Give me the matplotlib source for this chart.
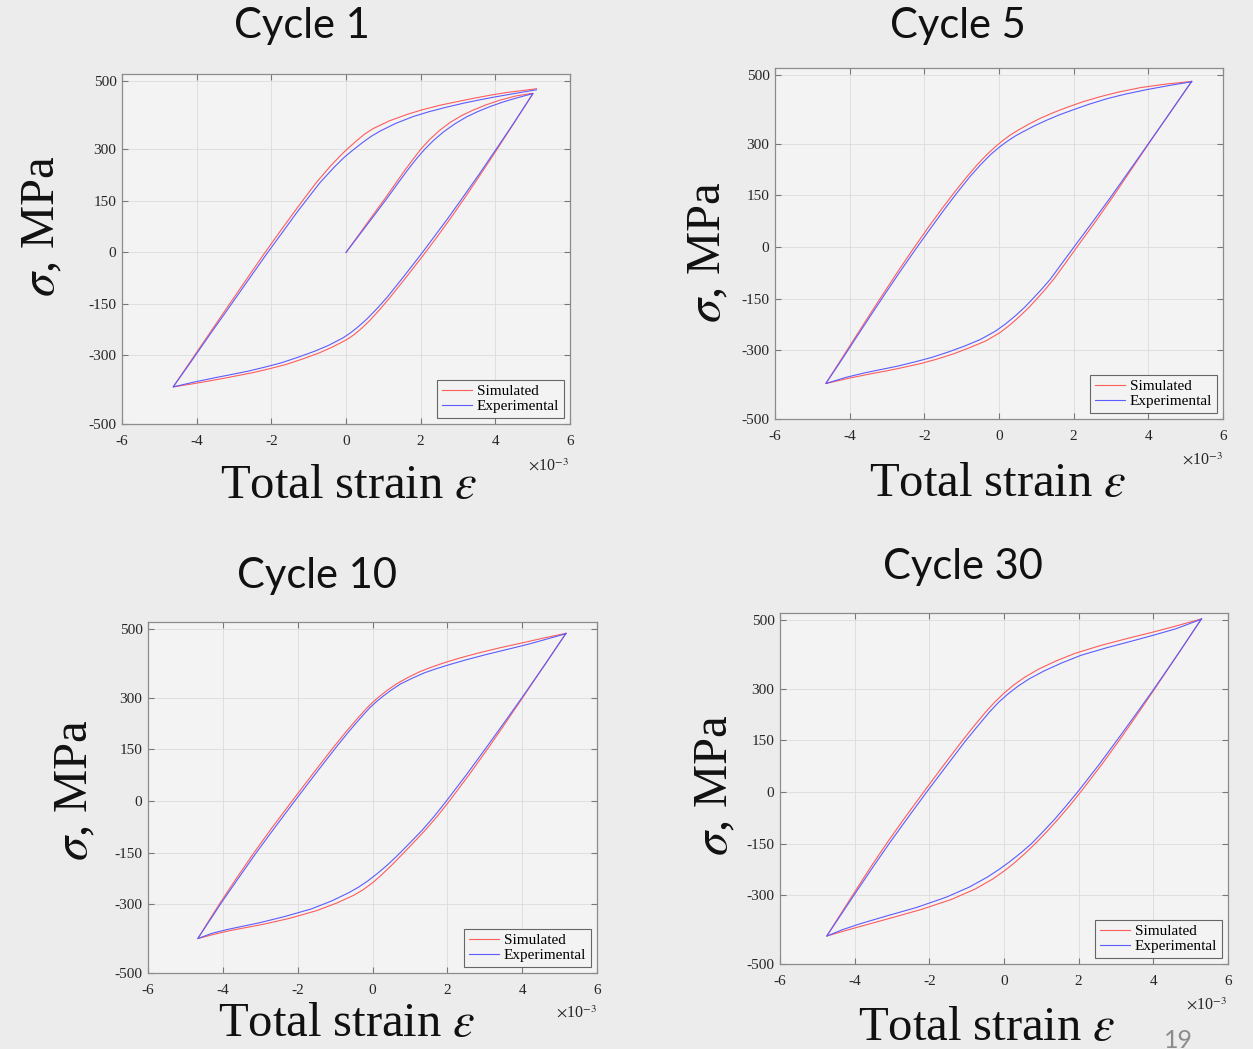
# coding=utf-8
# cyclic stress-strain loops, simulated vs experimental

import matplotlib
matplotlib.use('Agg')

import matplotlib.pyplot as plt

plt.rcParams['font.family'] = ['Liberation Serif', 'DejaVu Serif']
plt.rcParams['mathtext.fontset'] = 'stix'
plt.rcParams['axes.unicode_minus'] = False

W = 1253
H = 1049

# strain in units of 1e-3, stress in MPa
# cycle 1 : initial loading -> unloading -> reloading
c1_sim_eps = [0, 0.4, 0.73, 1.05, 1.36, 1.6, 1.8, 2.02, 2.25, 2.5, 2.79, 3.1, 3.41, 3.75, 4.13, 4.55, 5.01,
              4.5, 4.03, 3.6, 3.18, 2.79, 2.45, 2.1, 1.65, 1.18, 0.9, 0.64, 0.4, 0.2, 0.02, -0.35, -0.7,
              -1.15, -1.59, -2.05, -2.48, -2.95, -3.38, -4.0, -4.63,
              -4.2, -3.7, -3.2, -2.7, -2.2, -1.8, -1.4, -1.14, -0.8, -0.43, -0.16, 0.02, 0.29, 0.5, 0.73,
              1.15, 1.63, 2.05, 2.52, 3.0, 3.41, 3.85, 4.3, 5.1]
c1_sim_sig = [0, 60, 110, 158, 206, 243, 272, 303, 330, 355, 379, 399, 415, 430, 444, 456, 464,
              377, 298, 227, 159, 98, 47, -4, -67, -131, -167, -198, -223, -241, -254, -275, -292,
              -310, -326, -339, -350, -360, -369, -381, -392,
              -323, -243, -163, -84, -5, 56, 116, 154, 203, 250, 281, 300, 326, 345, 361,
              383, 402, 416, 429, 440, 449, 458, 466, 477]
c1_exp_eps = [0, 0.42, 0.77, 1.1, 1.42, 1.67, 1.88, 2.11, 2.35, 2.62, 2.92, 3.23, 3.54, 3.88, 4.25, 4.63, 5.01,
              4.5, 4.01, 3.56, 3.12, 2.72, 2.37, 2.02, 1.57, 1.1, 0.82, 0.55, 0.3, 0.1, -0.08, -0.47, -0.84,
              -1.3, -1.74, -2.2, -2.62, -3.08, -3.5, -4.08, -4.63,
              -4.18, -3.67, -3.15, -2.64, -2.13, -1.72, -1.32, -1.05, -0.7, -0.32, -0.04, 0.16, 0.44, 0.67, 0.92,
              1.33, 1.8, 2.22, 2.68, 3.15, 3.55, 3.98, 4.4, 5.1]
c1_exp_sig = [0, 60, 110, 158, 206, 243, 272, 301, 327, 352, 375, 395, 411, 426, 440, 452, 463,
              378, 299, 227, 159, 98, 47, -4, -67, -131, -165, -195, -219, -236, -249, -271, -288,
              -306, -322, -335, -346, -356, -365, -378, -392,
              -323, -243, -163, -84, -5, 56, 116, 154, 203, 248, 278, 296, 320, 338, 354,
              376, 396, 410, 423, 435, 444, 453, 461, 474]

# cycle 5 : unloading -> reloading
c5_sim_eps = [5.16, 4.6, 4.01, 3.55, 3.07, 2.6, 2.09, 1.78, 1.47, 1.25, 1.02, 0.8, 0.57, 0.3, 0.04, -0.35, -0.77,
              -1.2, -1.66, -2.1, -2.56, -3.0, -3.45, -4.0, -4.64,
              -4.3, -3.9, -3.5, -3.1, -2.7, -2.3, -1.9, -1.53, -1.2, -0.86, -0.6, -0.32, -0.1, 0.1, 0.3, 0.49,
              0.8, 1.11, 1.45, 1.83, 2.25, 2.72, 3.2, 3.79, 4.45, 5.16]
c5_sim_sig = [481, 393, 300, 226, 149, 76, 0, -47, -93, -122, -150, -176, -200, -226, -248, -273, -292,
              -310, -326, -339, -350, -360, -369, -381, -397,
              -339, -271, -203, -136, -70, -6, 56, 111, 158, 204, 237, 269, 291, 309, 325, 338,
              357, 374, 390, 406, 422, 437, 450, 463, 473, 481]
c5_exp_eps = [5.16, 4.6, 4.0, 3.52, 3.02, 2.53, 2.01, 1.69, 1.38, 1.15, 0.91, 0.68, 0.44, 0.16, -0.1, -0.5, -0.92,
              -1.35, -1.8, -2.25, -2.7, -3.15, -3.6, -4.1, -4.64,
              -4.28, -3.87, -3.46, -3.05, -2.64, -2.23, -1.82, -1.45, -1.12, -0.78, -0.51, -0.22, 0.01, 0.22, 0.43, 0.63,
              0.95, 1.27, 1.62, 2.0, 2.42, 2.9, 3.38, 3.95, 4.55, 5.16]
c5_exp_sig = [481, 393, 300, 226, 149, 76, 0, -47, -93, -122, -150, -176, -200, -225, -245, -269, -288,
              -305, -321, -334, -346, -356, -366, -379, -397,
              -339, -271, -203, -136, -70, -6, 56, 111, 158, 204, 237, 269, 290, 307, 322, 334,
              352, 368, 384, 399, 415, 431, 444, 457, 469, 480]

# cycle 10
c10_sim_eps = [5.17, 4.6, 4.0, 3.55, 3.12, 2.6, 2.07, 1.72, 1.4, 1.08, 0.78, 0.5, 0.25, 0.0, -0.25, -0.5, -0.96,
               -1.5, -2.21, -2.9, -3.82, -4.25, -4.67,
               -4.35, -4.07, -3.65, -3.19, -2.7, -2.12, -1.6, -1.05, -0.7, -0.4, -0.15, 0.02, 0.2, 0.4, 0.64,
               0.95, 1.25, 1.53, 1.9, 2.35, 2.87, 3.4, 4.03, 4.6, 5.17]
c10_sim_sig = [487, 395, 298, 226, 158, 79, 2, -46, -86, -123, -157, -188, -214, -238, -258, -274, -297,
               -319, -341, -358, -377, -388, -400,
               -344, -296, -227, -154, -80, 4, 78, 155, 202, 240, 270, 288, 305, 322, 340,
               359, 375, 387, 401, 416, 431, 445, 460, 474, 487]
c10_exp_eps = [5.17, 4.6, 3.98, 3.51, 3.06, 2.53, 1.99, 1.64, 1.32, 0.99, 0.69, 0.4, 0.14, -0.12, -0.38, -0.64, -1.1,
               -1.64, -2.35, -3.02, -3.9, -4.3, -4.67,
               -4.33, -4.04, -3.6, -3.13, -2.63, -2.05, -1.53, -0.98, -0.63, -0.33, -0.08, 0.1, 0.29, 0.5, 0.75,
               1.07, 1.38, 1.67, 2.05, 2.5, 3.02, 3.55, 4.15, 4.68, 5.17]
c10_exp_sig = [487, 395, 298, 226, 158, 79, 2, -46, -86, -123, -156, -186, -210, -232, -251, -267, -291,
               -314, -336, -354, -374, -385, -400,
               -344, -296, -227, -154, -80, 4, 78, 155, 202, 240, 270, 288, 305, 322, 340,
               357, 372, 383, 396, 410, 425, 439, 455, 471, 486]

# cycle 30
c30_sim_eps = [5.29, 4.65, 4.04, 3.6, 3.16, 2.62, 2.09, 1.75, 1.45, 1.15, 0.84, 0.55, 0.27, 0.0, -0.3, -0.77,
               -1.4, -2.2, -2.95, -3.72, -4.25, -4.75,
               -4.4, -3.99, -3.55, -3.14, -2.65, -2.15, -1.65, -1.13, -0.8, -0.5, -0.25, 0.0, 0.25, 0.55, 0.93,
               1.4, 1.91, 2.6, 3.34, 3.9, 4.5, 5.29]
c30_sim_sig = [503, 399, 300, 230, 161, 80, 5, -41, -79, -115, -150, -180, -207, -230, -253, -282,
               -312, -341, -364, -387, -403, -419,
               -359, -289, -215, -149, -74, 0, 73, 147, 192, 231, 261, 287, 310, 333, 357,
               381, 403, 426, 447, 462, 479, 503]
c30_exp_eps = [5.29, 4.65, 4.02, 3.56, 3.1, 2.55, 2.01, 1.66, 1.36, 1.05, 0.74, 0.44, 0.15, -0.13, -0.44, -0.92,
               -1.55, -2.35, -3.1, -3.85, -4.32, -4.75,
               -4.38, -3.95, -3.49, -3.07, -2.57, -2.07, -1.56, -1.04, -0.7, -0.4, -0.14, 0.11, 0.37, 0.68, 1.08,
               1.55, 2.06, 2.75, 3.48, 4.02, 4.6, 5.29]
c30_exp_sig = [503, 399, 300, 230, 161, 80, 5, -41, -79, -115, -150, -178, -203, -225, -247, -276,
               -306, -336, -359, -383, -400, -419,
               -359, -289, -215, -149, -74, 0, 73, 147, 192, 231, 261, 285, 307, 329, 352,
               375, 397, 419, 440, 456, 474, 502]

x_ticks = [-6, -4, -2, 0, 2, 4, 6]
y_ticks = [-500, -300, -150, 0, 150, 300, 500]


def fx(px):
    return px / W


def fy(py):
    return 1 - py / H


def drawcycle(fig, box, title, title_xy, ylab_xy, xlab_xy, off_xy,
              sim_eps, sim_sig, exp_eps, exp_sig):
    left, top, right, bottom = box
    ax = fig.add_axes([fx(left), fy(bottom), (right - left) / W, (bottom - top) / H])
    ax.set_facecolor('#f3f3f3')

    ax.plot(sim_eps, sim_sig, color='#ff5c5c', lw=0.8, label='Simulated')
    ax.plot(exp_eps, exp_sig, color='#5c5cff', lw=0.8, label='Experimental')

    ax.set_xlim(-6, 6)
    ax.set_ylim(-500, 520)
    ax.set_xticks(x_ticks)
    ax.set_yticks(y_ticks)
    ax.grid(True, color='#dcdcdc', lw=0.6)
    ax.tick_params(direction='in', top=True, right=True, length=4,
                   color='#777777', labelsize=11, labelcolor='#262626')
    ax.tick_params(axis='x', pad=8)
    ax.tick_params(axis='y', pad=4)
    for s in ax.spines.values():
        s.set_color('#8c8c8c')
        s.set_linewidth(0.9)

    leg = ax.legend(loc='lower right', fontsize=11, frameon=True, fancybox=False,
                    borderaxespad=0.4, handlelength=2.0, handletextpad=0.3,
                    borderpad=0.3, labelspacing=0.1)
    leg.get_frame().set_facecolor('#f3f3f3')
    leg.get_frame().set_edgecolor('#666666')
    leg.get_frame().set_linewidth(0.8)
    leg.get_frame().set_alpha(1)

    fig.text(fx(title_xy[0]), fy(title_xy[1]), title, family=['Lato', 'DejaVu Sans'],
             fontsize=30, ha='center', va='center', color='#111111')
    fig.text(fx(ylab_xy[0]), fy(ylab_xy[1]), r'$\sigma$, MPa', fontsize=35,
             rotation=90, ha='center', va='center', color='#111111')
    fig.text(fx(xlab_xy[0]), fy(xlab_xy[1]), r'Total strain $\varepsilon$', fontsize=35,
             ha='center', va='center', color='#111111')
    fig.text(fx(off_xy[0]), fy(off_xy[1]), r'$\times$10$^{-3}$', fontsize=11.5,
             ha='center', va='center', color='#262626')
    return ax


fig = plt.figure(figsize=(W / 100, H / 100), dpi=100)
fig.patch.set_facecolor('#ececec')

drawcycle(fig, (122, 74, 570, 424), 'Cycle 1', (302, 26), (42, 226), (349, 486), (548, 466),
          c1_sim_eps, c1_sim_sig, c1_exp_eps, c1_exp_sig)
drawcycle(fig, (775, 68, 1223, 419), 'Cycle 5', (958, 26), (708, 252), (998, 484), (1202, 460),
          c5_sim_eps, c5_sim_sig, c5_exp_eps, c5_exp_sig)
drawcycle(fig, (148, 622, 597, 973), 'Cycle 10', (317, 576), (75, 790), (347, 1024), (576, 1013),
          c10_sim_eps, c10_sim_sig, c10_exp_eps, c10_exp_sig)
drawcycle(fig, (780, 613, 1228, 964), 'Cycle 30', (963, 567), (715, 785), (987, 1028), (1206, 1005),
          c30_sim_eps, c30_sim_sig, c30_exp_eps, c30_exp_sig)

# page number of the slide
fig.text(fx(1178), fy(1040), '19', family=['Lato', 'DejaVu Sans'], fontsize=18,
         ha='center', va='center', color='#8c8c8c')

fig.savefig('out.png', dpi=100, facecolor=fig.get_facecolor())
plt.close()
